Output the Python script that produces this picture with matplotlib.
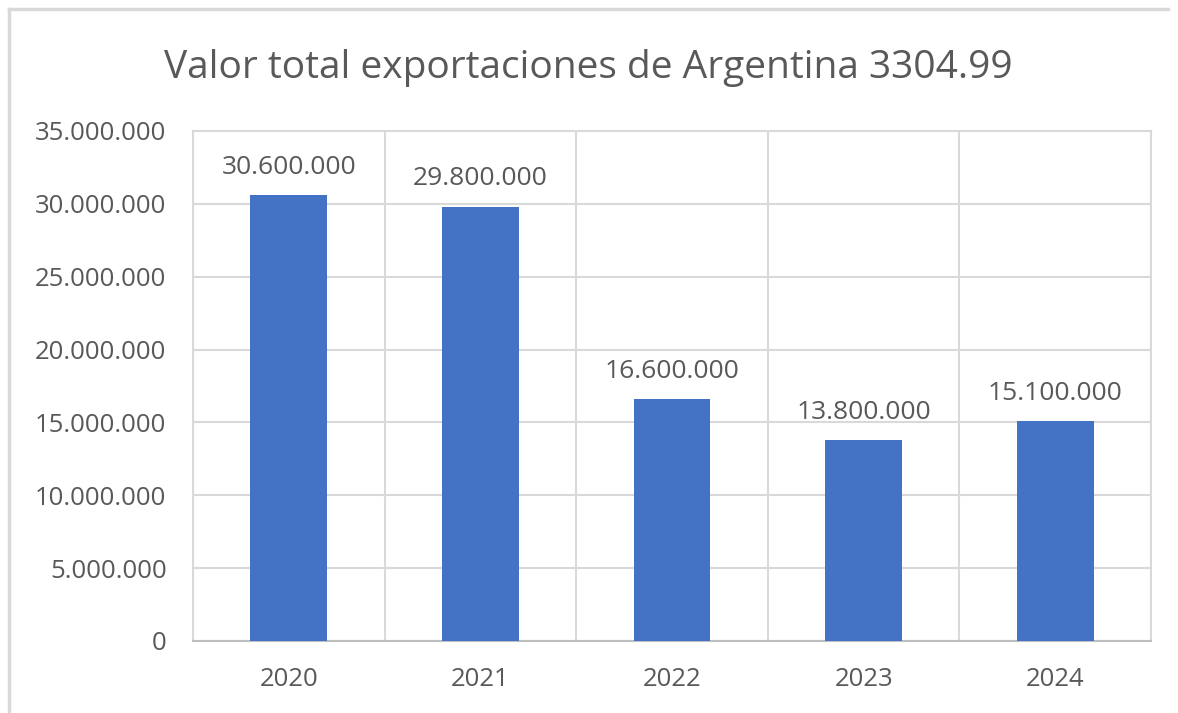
import matplotlib
matplotlib.use("Agg")
import matplotlib.pyplot as plt
from matplotlib.lines import Line2D
from matplotlib.ticker import FuncFormatter

plt.rcParams['font.family'] = ['Open Sans', 'DejaVu Sans']

# Datos de exportaciones por año
anios = ['2020', '2021', '2022', '2023', '2024']
valores = [30600000, 29800000, 16600000, 13800000, 15100000]
titulo = 'Valor total exportaciones de Argentina 3304.99'

colorTexto = '#595959'
colorGrid = '#d9d9d9'


def formatoMiles(v, pos=None):
    # separador de miles con punto
    return f'{int(v):,}'.replace(',', '.')


fig = plt.figure(figsize=(11.78, 7.13), dpi=100)
ax = fig.add_axes([0.1638, 0.1010, 0.8133, 0.7153])

x = list(range(len(anios)))
barras = ax.bar(x, valores, width=0.4, color='#4472C4', zorder=3)

# Etiquetas de valor sobre cada barra
for xi, v in zip(x, valores):
    ax.annotate(formatoMiles(v), (xi, v), xytext=(0, 11), textcoords='offset points',
                ha='center', va='bottom', fontsize=19, color=colorTexto)

ax.set_xlim(-0.5, len(anios) - 0.5)
ax.set_ylim(0, 35000000)
ax.set_yticks(range(0, 35000001, 5000000))
ax.yaxis.set_major_formatter(FuncFormatter(formatoMiles))
ax.set_xticks(x)
ax.set_xticklabels(anios)

# Lineas verticales entre categorias
ax.set_xticks([i - 0.5 for i in range(len(anios) + 1)], minor=True)
ax.grid(axis='y', which='major', color=colorGrid, linewidth=1.5, zorder=0)
ax.grid(axis='x', which='minor', color=colorGrid, linewidth=1.5, zorder=0)
ax.tick_params(axis='both', which='both', length=0, labelsize=18.5, labelcolor=colorTexto)
ax.tick_params(axis='y', pad=19)
ax.tick_params(axis='x', pad=19)

for lado in ['top', 'right', 'left']:
    ax.spines[lado].set_color(colorGrid)
    ax.spines[lado].set_linewidth(1.5)
ax.spines['bottom'].set_color('#bfbfbf')
ax.spines['bottom'].set_linewidth(1.5)

fig.text(0.4992, 0.905, titulo, ha='center', va='center', fontsize=28, color=colorTexto)

# Borde del grafico
fig.add_artist(Line2D([9 / 1178, 1168 / 1178], [1 - 9 / 713, 1 - 9 / 713],
                      color='#d9d9d9', linewidth=2.5))
fig.add_artist(Line2D([9 / 1178, 9 / 1178], [1 - 9 / 713, 0],
                      color='#d9d9d9', linewidth=2.5))

plt.savefig('out.png', dpi=100)
